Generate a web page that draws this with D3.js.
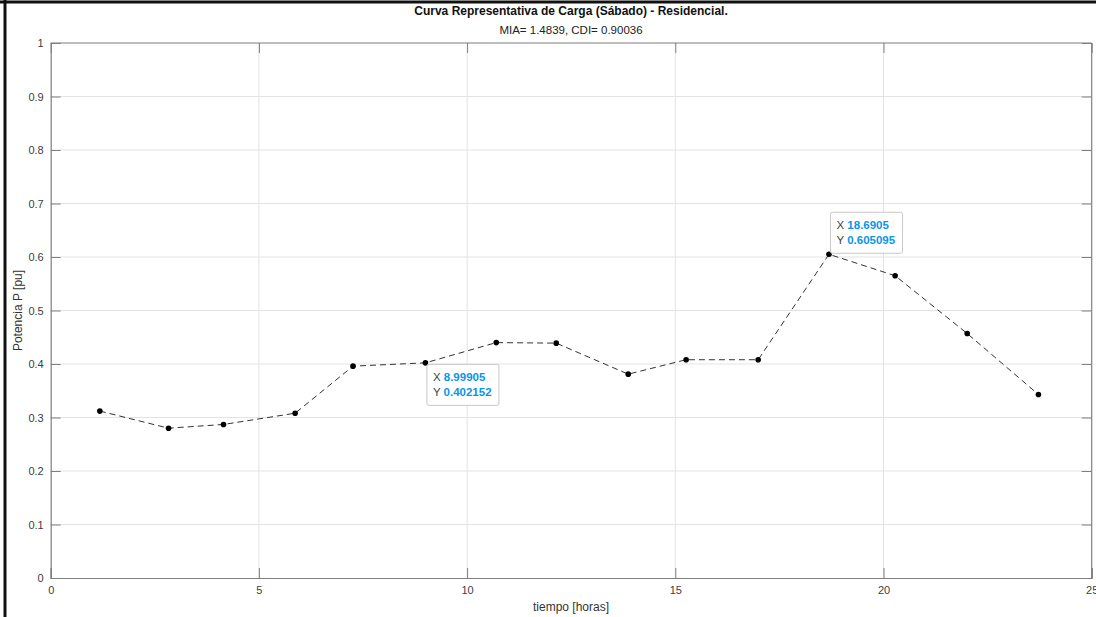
<!DOCTYPE html>
<html>
<head>
<meta charset="utf-8">
<script src="https://cdn.jsdelivr.net/npm/d3@7"></script>
<style>
  html, body { margin: 0; padding: 0; background: #fff; }
  svg { display: block; font-family: "Liberation Sans", Arial, sans-serif; }
</style>
</head>
<body>
<svg id="chart" width="1096" height="617"></svg>
<script>
// Load curve for a Saturday, residential customer
const hours = [1.18, 2.83, 4.15, 5.87, 7.26, 8.99905, 10.70, 12.14, 13.87, 15.26, 16.99, 18.6905, 20.28, 22.01, 23.72];
const power = [0.312, 0.280, 0.287, 0.308, 0.396, 0.402152, 0.440, 0.439, 0.381, 0.408, 0.408, 0.605095, 0.565, 0.457, 0.343];
const xTicks = [0, 5, 10, 15, 20, 25];
const yTicks = [0, 0.1, 0.2, 0.3, 0.4, 0.5, 0.6, 0.7, 0.8, 0.9, 1];
// Data tips: index of the marked point and which side of it the box sits
const tips = [
  { index: 5, place: "below" },
  { index: 11, place: "above" }
];

const svg = d3.select("#chart");
const W = 1096, H = 617;
const m = { left: 50.7, right: W - 1091.7, top: 43, bottom: H - 578 };
const x = d3.scaleLinear().domain([0, 25]).range([m.left, W - m.right]);
const y = d3.scaleLinear().domain([0, 1]).range([H - m.bottom, m.top]);

// figure frame edges
svg.append("line").attr("x1", 0).attr("x2", W).attr("y1", 2).attr("y2", 2)
  .attr("stroke", "#111").attr("stroke-width", 3);
svg.append("line").attr("x1", 5).attr("x2", 5).attr("y1", 0).attr("y2", H)
  .attr("stroke", "#111").attr("stroke-width", 3);

const g = svg.append("g");
// grid
g.selectAll(".gx").data(xTicks.slice(1, -1)).join("line")
  .attr("x1", d => x(d)).attr("x2", d => x(d))
  .attr("y1", y(0)).attr("y2", y(1))
  .attr("stroke", "#e3e3e3").attr("stroke-width", 1);
g.selectAll(".gy").data(yTicks.slice(1, -1)).join("line")
  .attr("x1", x(0)).attr("x2", x(25))
  .attr("y1", d => y(d)).attr("y2", d => y(d))
  .attr("stroke", "#e3e3e3").attr("stroke-width", 1);

// axes with inward ticks, box on all sides
const axisColor = "#7f7f7f";
function styleAxis(sel) {
  sel.select(".domain").attr("stroke", axisColor).attr("stroke-width", 1.2);
  sel.selectAll(".tick line").attr("stroke", axisColor);
  sel.selectAll(".tick text").attr("fill", "#404040").style("font-size", "11px")
    .style("font-family", "'Liberation Sans', Arial, sans-serif");
}
const xb = g.append("g").attr("transform", `translate(0,${y(0)})`)
  .call(d3.axisBottom(x).tickValues(xTicks).tickSize(-10).tickPadding(8).tickFormat(d3.format("d")));
styleAxis(xb);
const xt = g.append("g").attr("transform", `translate(0,${y(1)})`)
  .call(d3.axisTop(x).tickValues(xTicks).tickSize(-10).tickFormat(""));
styleAxis(xt);
const yl = g.append("g").attr("transform", `translate(${x(0)},0)`)
  .call(d3.axisLeft(y).tickValues(yTicks).tickSize(-10).tickPadding(7).tickFormat(d => d === 0 || d === 1 ? d3.format("d")(d) : d3.format(".1f")(d)));
styleAxis(yl);
const yr = g.append("g").attr("transform", `translate(${x(25)},0)`)
  .call(d3.axisRight(y).tickValues(yTicks).tickSize(-10).tickFormat(""));
styleAxis(yr);
xt.select(".domain").remove();
yr.select(".domain").remove();
g.append("line").attr("x1", x(0)).attr("x2", x(25)).attr("y1", y(1)).attr("y2", y(1))
  .attr("stroke", axisColor).attr("stroke-width", 1.2);
g.append("line").attr("x1", x(25)).attr("x2", x(25)).attr("y1", y(0)).attr("y2", y(1))
  .attr("stroke", axisColor).attr("stroke-width", 1.2);

// data line
const pts = hours.map((h, i) => [h, power[i]]);
g.append("path").datum(pts)
  .attr("fill", "none").attr("stroke", "#333").attr("stroke-width", 1)
  .attr("stroke-dasharray", "6,4")
  .attr("d", d3.line().x(d => x(d[0])).y(d => y(d[1])));
g.selectAll(".pt").data(pts).join("circle")
  .attr("cx", d => x(d[0])).attr("cy", d => y(d[1])).attr("r", 2.8).attr("fill", "#000");

// data tips
tips.forEach(t => {
  const px = x(hours[t.index]), py = y(power[t.index]);
  const bw = 72, bh = 41;
  const bx = px + 1.5;
  const by = t.place === "below" ? py + 1.5 : py - bh - 1;
  const tg = g.append("g");
  tg.append("rect").attr("x", bx).attr("y", by).attr("width", bw).attr("height", bh)
    .attr("rx", 2).attr("fill", "#fff").attr("stroke", "#c8c8c8").attr("stroke-width", 1);
  const rows = [["X", d3.format("")(hours[t.index])], ["Y", d3.format("")(power[t.index])]];
  rows.forEach((r, i) => {
    const tx = tg.append("text").attr("x", bx + 6).attr("y", by + 17 + i * 15)
      .style("font-size", "11.5px");
    tx.append("tspan").attr("fill", "#444").text(r[0] + " ");
    tx.append("tspan").attr("fill", "#0a95e8").attr("font-weight", "bold").text(r[1]);
  });
});

// titles
svg.append("text").attr("x", 571).attr("y", 15).attr("text-anchor", "middle")
  .style("font-size", "12px").style("font-weight", "bold").attr("fill", "#111")
  .text("Curva Representativa de Carga (Sábado) - Residencial.");
svg.append("text").attr("x", 571).attr("y", 34).attr("text-anchor", "middle")
  .style("font-size", "11.5px").attr("fill", "#222")
  .text("MIA= 1.4839, CDI= 0.90036");
svg.append("text").attr("x", 571).attr("y", 611).attr("text-anchor", "middle")
  .style("font-size", "12px").attr("fill", "#333").text("tiempo [horas]");
svg.append("text").attr("transform", `translate(22,${(y(0) + y(1)) / 2}) rotate(-90)`)
  .attr("text-anchor", "middle").style("font-size", "12px").attr("fill", "#333")
  .text("Potencia P [pu]");
</script>
</body>
</html>
